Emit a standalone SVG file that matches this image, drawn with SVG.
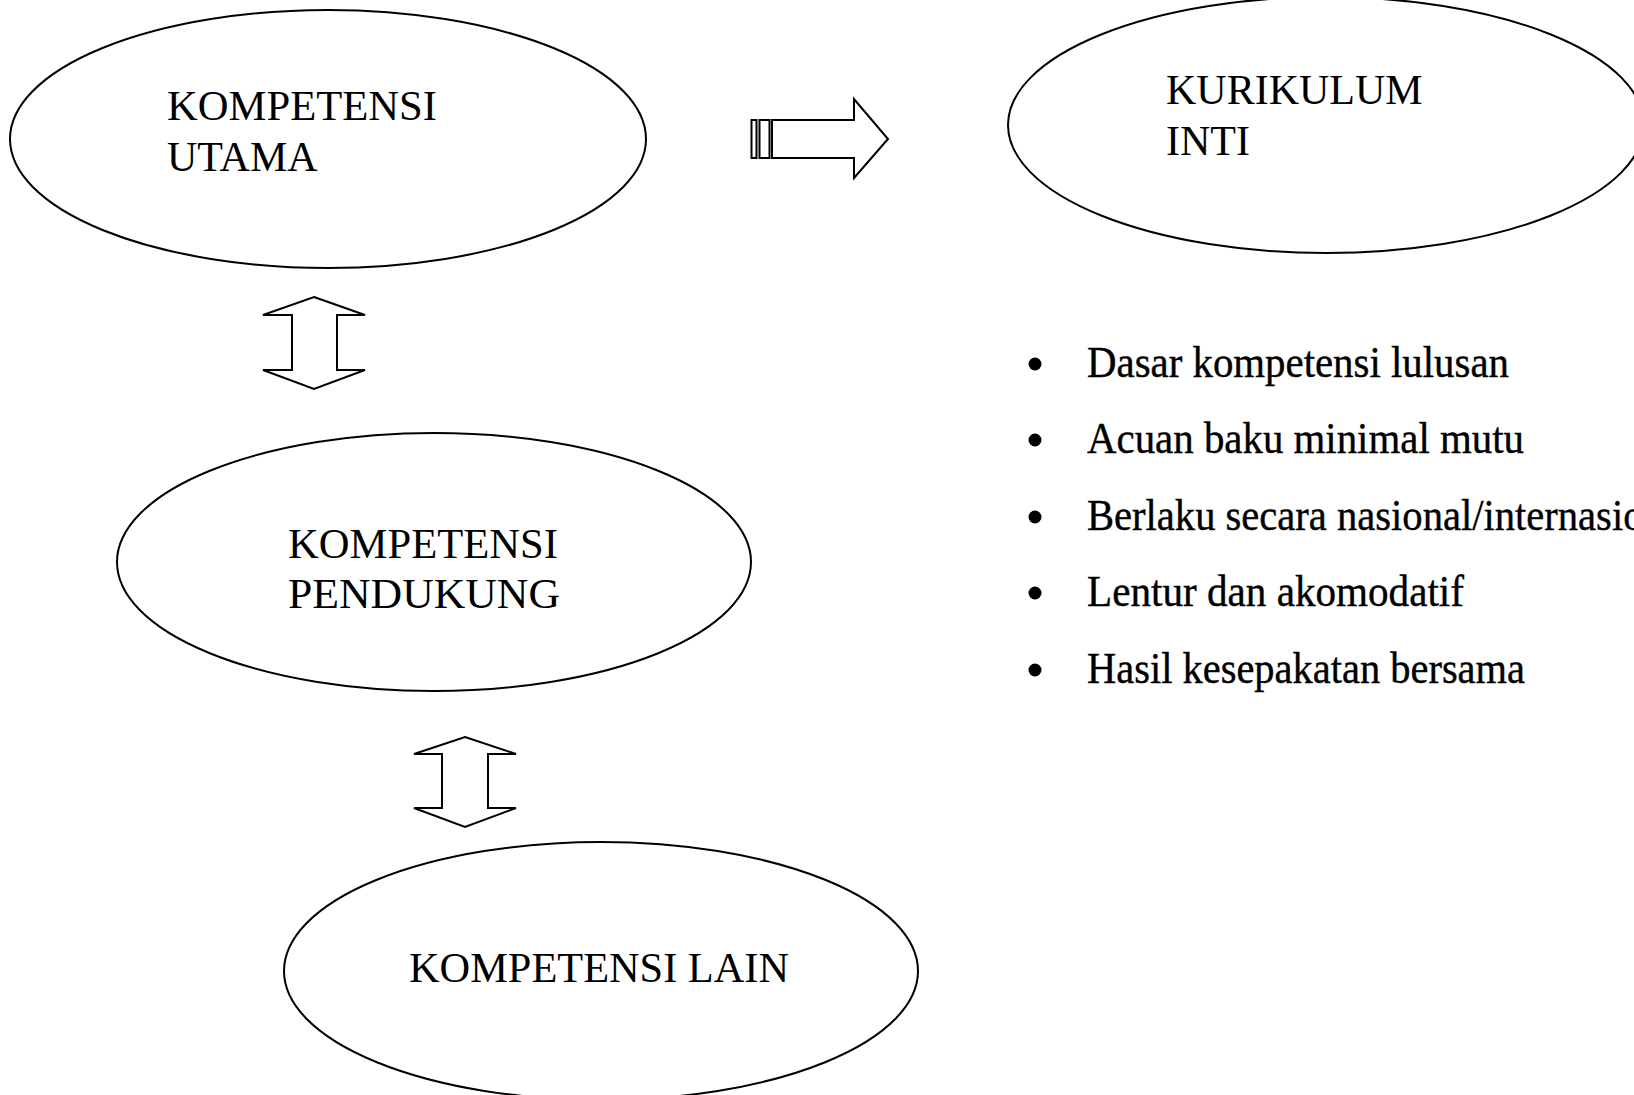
<svg xmlns="http://www.w3.org/2000/svg" width="1634" height="1095" viewBox="0 0 1634 1095">
<style>
.shape{fill:#fff;stroke:#000;stroke-width:2}
.lbl{font-family:"Liberation Serif","Times New Roman",serif;font-size:42px;fill:#000}
.item{font-family:"Liberation Serif","Times New Roman",serif;font-size:44px;fill:#000;stroke:#000;stroke-width:0.4}
.bullet{fill:#000}
</style>
<rect width="1634" height="1095" fill="#fff"/>
<g id="connectors">
<g id="arrow-right">
<rect class="shape" x="751.5" y="120" width="5" height="38"/>
<rect class="shape" x="759.5" y="120" width="10" height="38"/>
<polygon class="shape" points="772,120 854,120 854,99 888,139 854,178 854,158 772,158"/>
</g>
<polygon id="arrow-updown-1" class="shape" points="314,297 365,315 337,315 337,370 365,370 314,389 263,370 292,370 292,315 263,315"/>
<polygon id="arrow-updown-2" class="shape" points="465,737 516,754 488,754 488,808 516,808 465,827 414,808 442,808 442,754 414,754"/>
</g>
<g id="node-kompetensi-utama">
<ellipse class="shape" cx="328" cy="139" rx="318" ry="129"/>
<text class="lbl" x="167" y="120" textLength="270" lengthAdjust="spacingAndGlyphs">KOMPETENSI</text>
<text class="lbl" x="167" y="171">UTAMA</text>
</g>
<g id="node-kurikulum-inti">
<ellipse class="shape" cx="1326" cy="125" rx="318" ry="128"/>
<text class="lbl" x="1166" y="104">KURIKULUM</text>
<text class="lbl" x="1166" y="155">INTI</text>
</g>
<g id="node-kompetensi-pendukung">
<ellipse class="shape" cx="434" cy="562" rx="317" ry="129"/>
<text class="lbl" x="288" y="558" textLength="270" lengthAdjust="spacingAndGlyphs">KOMPETENSI</text>
<text class="lbl" x="288" y="608" textLength="272" lengthAdjust="spacingAndGlyphs">PENDUKUNG</text>
</g>
<g id="node-kompetensi-lain">
<ellipse class="shape" cx="601" cy="971" rx="317" ry="129"/>
<text class="lbl" x="409" y="982" textLength="380" lengthAdjust="spacingAndGlyphs">KOMPETENSI LAIN</text>
</g>
<g id="list-kurikulum-inti">
<circle class="bullet" cx="1035" cy="364" r="6.5"/>
<text class="item" x="1087" y="377" textLength="422" lengthAdjust="spacingAndGlyphs">Dasar kompetensi lulusan</text>
<circle class="bullet" cx="1035" cy="440" r="6.5"/>
<text class="item" x="1087" y="453" textLength="437" lengthAdjust="spacingAndGlyphs">Acuan baku minimal mutu</text>
<circle class="bullet" cx="1035" cy="517" r="6.5"/>
<text class="item" x="1087" y="530" textLength="606" lengthAdjust="spacingAndGlyphs">Berlaku secara nasional/internasional</text>
<circle class="bullet" cx="1035" cy="593" r="6.5"/>
<text class="item" x="1087" y="606" textLength="377" lengthAdjust="spacingAndGlyphs">Lentur dan akomodatif</text>
<circle class="bullet" cx="1035" cy="670" r="6.5"/>
<text class="item" x="1087" y="683" textLength="438" lengthAdjust="spacingAndGlyphs">Hasil kesepakatan bersama</text>
</g>
</svg>
